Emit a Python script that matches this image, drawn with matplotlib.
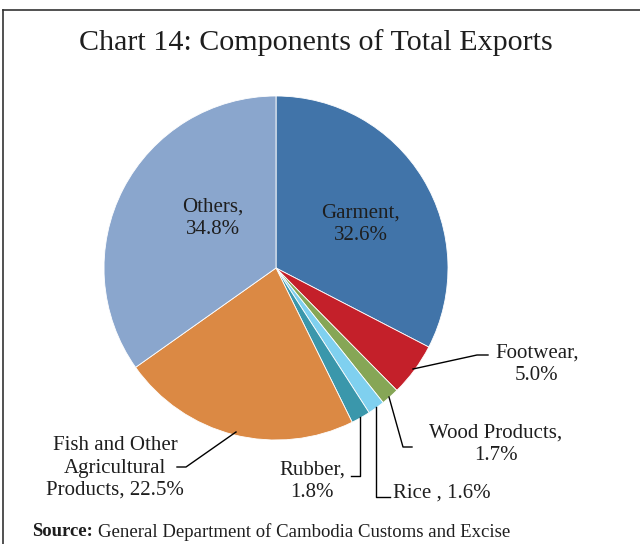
import matplotlib.pyplot as plt
from matplotlib.lines import Line2D

# components of total exports (%), clockwise from 12 o'clock
labels = ['Garment', 'Footwear', 'Wood Products', 'Rice', 'Rubber',
          'Fish and Other Agricultural Products', 'Others']
shares = [32.6, 5.0, 1.7, 1.6, 1.8, 22.5, 34.8]
colors = ['#4174a9', '#c4202a', '#86a656', '#7fd0ef', '#3a97ab', '#db8944', '#8aa6cd']

plt.rcParams['font.family'] = ['Liberation Serif', 'DejaVu Serif']

W, H = 640, 544
fig = plt.figure(figsize=(6.4, 5.44), dpi=100)
ax = fig.add_axes([0, 0, 1, 1])

# pixel coords -> y flipped
def P(x, y):
    return x, H - y

cx, cy = P(276, 268)
ax.pie(shares, colors=colors, startangle=90, counterclock=False,
       center=(cx, cy), radius=172, frame=True,
       wedgeprops=dict(edgecolor='white', linewidth=0.6))
ax.set_xlim(0, W)
ax.set_ylim(0, H)
ax.set_aspect('equal')
ax.axis('off')

# border (left + top only visible)
fig.add_artist(Line2D([3 / W, 3 / W], [0, 1 - 10 / H], color='#333333', lw=1.2))
fig.add_artist(Line2D([3 / W, 1], [1 - 10 / H, 1 - 10 / H], color='#333333', lw=1.2))

tc = '#1e1e1e'
ax.text(*P(316, 43), 'Chart 14: Components of Total Exports', fontsize=21.6,
        ha='center', va='center', color=tc)

fs = 15
ls = 1.22
ax.text(*P(213, 218), 'Others,\n34.8%', fontsize=fs, ha='center', va='center',
        color=tc, linespacing=ls)
ax.text(*P(361, 224), 'Garment,\n32.6%', fontsize=fs, ha='center', va='center',
        color=tc, linespacing=ls)
ax.text(*P(537, 364), 'Footwear,\n5.0%', fontsize=fs, ha='center', va='center',
        color=tc, linespacing=ls)
ax.text(*P(496, 444), 'Wood Products,\n1.7%', fontsize=fs, ha='center', va='center',
        color=tc, linespacing=ls)
ax.text(*P(393, 493), 'Rice , 1.6%', fontsize=fs, ha='left', va='center', color=tc)
ax.text(*P(312, 481), 'Rubber,\n1.8%', fontsize=fs, ha='center', va='center',
        color=tc, linespacing=ls)
ax.text(*P(115, 468), 'Fish and Other\nAgricultural\nProducts, 22.5%', fontsize=fs,
        ha='center', va='center', color=tc, linespacing=ls)

# leader lines
leaders = [
    [(413, 369), (477, 355), (488, 355)],
    [(389, 397), (403, 447), (412, 447)],
    [(376, 407), (376, 497), (390, 497)],
    [(360, 417), (360, 476), (351, 476)],
    [(236, 432), (186, 467), (177, 467)],
]
for pts in leaders:
    xs = [p[0] for p in pts]
    ys = [H - p[1] for p in pts]
    ax.plot(xs, ys, color='black', lw=1.0)

ax.text(*P(32, 532), 'Source:', fontsize=13.5, fontweight='bold',
        ha='left', va='center', color=tc)
ax.text(*P(98, 532), 'General Department of Cambodia Customs and Excise',
        fontsize=13.5, ha='left', va='center', color=tc)

fig.savefig('out.png', dpi=100)
